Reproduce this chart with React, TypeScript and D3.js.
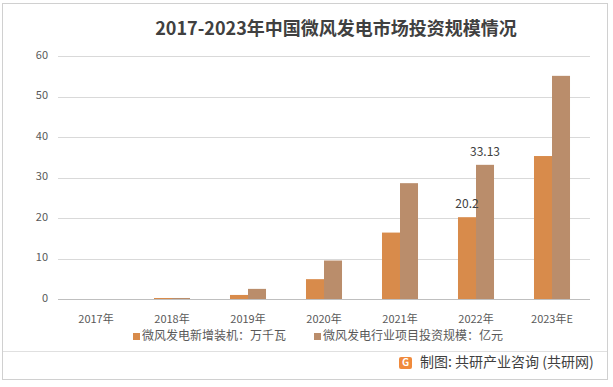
import React from "react";
import * as d3 from "d3";

const categories = ["2017年", "2018年", "2019年", "2020年", "2021年", "2022年", "2023年E"];
const seriesNames = ["微风发电新增装机：万千瓦", "微风发电行业项目投资规模：亿元"];
const capacity = [0, 0.25, 1.0, 4.9, 16.4, 20.2, 35.3];
const investment = [0, 0.25, 2.5, 9.5, 28.6, 33.13, 55.1];
const yTicks = [0, 10, 20, 30, 40, 50, 60];
const labeled = [{ s: 0, i: 5, text: "20.2" }, { s: 1, i: 5, text: "33.13" }];
const colors = ["#D88B4B", "#BA8D6B"];

const W = 613;
const H = 387;
const FONT = "'Noto Sans CJK SC', 'Microsoft YaHei', sans-serif";

export default function App() {
  const x0 = d3.scaleBand<string>().domain(categories).range([58, 590]).paddingInner(0.526).paddingOuter(0.263);
  const x1 = d3.scaleBand<number>().domain([0, 1]).range([0, x0.bandwidth()]).padding(0);
  const y = d3.scaleLinear().domain([0, 60]).range([299, 56]);
  const series = [capacity, investment];

  return (
    <div style={{ position: "absolute", left: 0, top: 0 }}>
      <svg width={W} height={H} style={{ display: "block", fontFamily: FONT }}>
        <rect x={0} y={0} width={W} height={H} fill="#fff" />
        <rect x={2.5} y={3.5} width={605} height={376} fill="none" stroke="#d0d0d0" strokeWidth={1} />
        <text x={336} y={30} textAnchor="middle" dominantBaseline="middle" fontSize={18} fontWeight="bold" fill="#404040">
          2017-2023年中国微风发电市场投资规模情况
        </text>
        {yTicks.map((t) => (
          <g key={t}>
            <line x1={58} x2={590} y1={Math.round(y(t)) + 0.5} y2={Math.round(y(t)) + 0.5} stroke={t === 0 ? "#bfbfbf" : "#d9d9d9"} />
            <text x={48} y={y(t)} textAnchor="end" dominantBaseline="middle" fontSize={11} fill="#595959">
              {t}
            </text>
          </g>
        ))}
        {series.map((vals, s) =>
          vals.map((v, i) => (
            <rect
              key={`${s}-${i}`}
              x={(x0(categories[i]) ?? 0) + (x1(s) ?? 0)}
              y={y(v)}
              width={x1.bandwidth()}
              height={y(0) - y(v)}
              fill={colors[s]}
            />
          ))
        )}
        {labeled.map((l) => (
          <text
            key={l.text}
            x={(x0(categories[l.i]) ?? 0) + (x1(l.s) ?? 0) + x1.bandwidth() / 2}
            y={y(series[l.s][l.i]) - 12}
            textAnchor="middle"
            dominantBaseline="middle"
            fontSize={12}
            fill="#404040"
          >
            {l.text}
          </text>
        ))}
        {categories.map((c) => (
          <text key={c} x={(x0(c) ?? 0) + x0.bandwidth() / 2} y={320} textAnchor="middle" dominantBaseline="middle" fontSize={11} fill="#595959">
            {c}
          </text>
        ))}
        {seriesNames.map((n, s) => {
          const lx = s === 0 ? 133 : 314;
          return (
            <g key={n}>
              <rect x={lx} y={333} width={7} height={7} fill={colors[s]} />
              <text x={lx + 9} y={337} dominantBaseline="middle" fontSize={12} fill="#595959">
                {n}
              </text>
            </g>
          );
        })}
        <line x1={3} x2={607} y1={351.5} y2={351.5} stroke="#e0e0e0" />
        <g>
          <rect x={399} y={357} width={13} height={12} rx={2} fill="#F08A3C" />
          <text x={405.5} y={363.5} textAnchor="middle" dominantBaseline="middle" fontSize={10} fontWeight="bold" fill="#fff">
            G
          </text>
        </g>
        <text x={420} y={363} dominantBaseline="middle" fontSize={14} fill="#404040">
          制图: 共研产业咨询 (共研网)
        </text>
      </svg>
    </div>
  );
}
